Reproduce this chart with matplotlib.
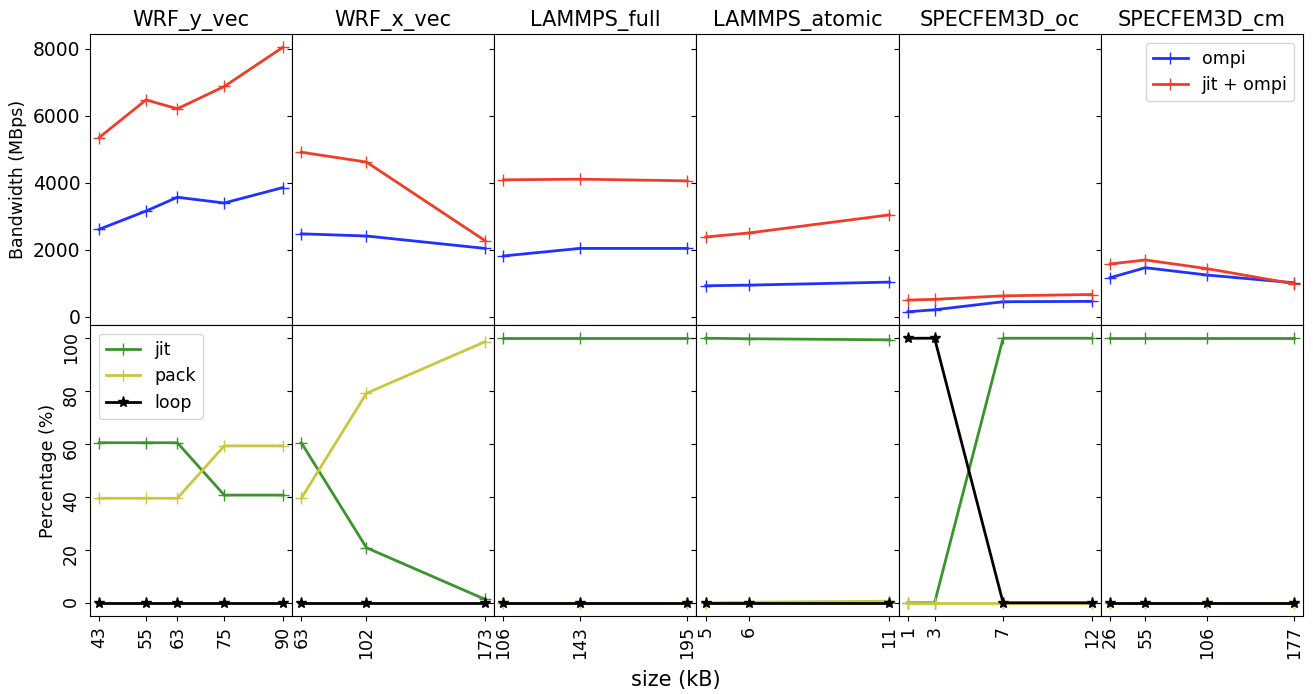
import numpy as np
import matplotlib.pyplot as plt

# benchmark names (columns)
names = ["WRF_y_vec", "WRF_x_vec", "LAMMPS_full", "LAMMPS_atomic",
         "SPECFEM3D_oc", "SPECFEM3D_cm"]

# message sizes (kB) and their tick labels
sizes = [
    [43, 55, 63, 75, 90],
    [63, 102, 173],
    [106, 143, 195],
    [5.0, 6.4, 11.0],
    [1.0, 2.6, 6.7, 12.0],
    [26, 55, 106, 177],
]
size_labels = [
    ["43", "55", "63", "75", "90"],
    ["63", "102", "173"],
    ["106", "143", "195"],
    ["5", "6", "11"],
    ["1", "3", "7", "12"],
    ["26", "55", "106", "177"],
]

# bandwidth (MBps)
bw_ompi = [
    [2610, 3155, 3565, 3395, 3855],
    [2475, 2410, 2040],
    [1815, 2040, 2040],
    [925, 945, 1035],
    [150, 210, 450, 460],
    [1165, 1465, 1245, 1015],
]
bw_jit = [
    [5345, 6470, 6205, 6870, 8040],
    [4910, 4615, 2270],
    [4085, 4105, 4055],
    [2380, 2500, 3040],
    [500, 520, 625, 665],
    [1575, 1695, 1435, 985],
]

# percentage of datatype handled by each strategy
pct_jit = [
    [60.5, 60.5, 60.5, 40.7, 40.7],
    [60.5, 20.8, 1.3],
    [100, 100, 100],
    [100, 99.8, 99.4],
    [0, 0, 100, 100],
    [100, 100, 100, 100],
]
pct_pack = [
    [39.5, 39.5, 39.5, 59.3, 59.3],
    [39.5, 79.2, 98.7],
    [0, 0, 0],
    [0, 0.2, 0.6],
    [0, 0, 0, 0],
    [0, 0, 0, 0],
]
pct_loop = [
    [0, 0, 0, 0, 0],
    [0, 0, 0],
    [0, 0, 0],
    [0, 0, 0],
    [100, 100, 0, 0],
    [0, 0, 0, 0],
]

c_ompi = "#1f32ff"
c_jit_ompi = "#ef3e28"
c_jit = "#3a942c"
c_pack = "#c9c83c"

fig, axes = plt.subplots(2, 6, figsize=(13.13, 6.94), dpi=100,
                         sharex="col", sharey="row",
                         gridspec_kw=dict(wspace=0, hspace=0))
fig.subplots_adjust(left=0.0685, right=0.9924, top=0.951, bottom=0.1124)

for i, name in enumerate(names):
    top = axes[0, i]
    bot = axes[1, i]
    x = sizes[i]

    top.plot(x, bw_ompi[i], color=c_ompi, marker="+", ms=9, lw=2, label="ompi")
    top.plot(x, bw_jit[i], color=c_jit_ompi, marker="+", ms=9, lw=2, label="jit + ompi")
    top.set_title(name, fontsize=15)
    top.tick_params(axis="x", bottom=False)

    bot.plot(x, pct_jit[i], color=c_jit, marker="+", ms=9, lw=2, label="jit")
    bot.plot(x, pct_pack[i], color=c_pack, marker="+", ms=9, lw=2, label="pack")
    bot.plot(x, pct_loop[i], color="black", marker="*", ms=8, lw=2, label="loop")
    bot.set_xticks(x)
    bot.set_xticklabels(size_labels[i], rotation=90, fontsize=12.5)

axes[0, 0].set_yticks([0, 2000, 4000, 6000, 8000])
axes[0, 0].tick_params(axis="y", labelsize=13.5)
axes[1, 0].set_yticks([0, 20, 40, 60, 80, 100])
axes[1, 0].tick_params(axis="y", labelsize=12.5, labelrotation=90)

axes[0, 0].set_ylabel("Bandwidth (MBps)", fontsize=12.5)
axes[1, 0].set_ylabel("Percentage (%)", fontsize=12.5)
axes[0, 5].legend(loc="upper right", fontsize=12.5)
axes[1, 0].legend(loc="upper left", fontsize=12.5)

fig.text(676 / 1313, 1 - 680 / 694, "size (kB)", ha="center", va="center", fontsize=15)

plt.savefig("out.png")
